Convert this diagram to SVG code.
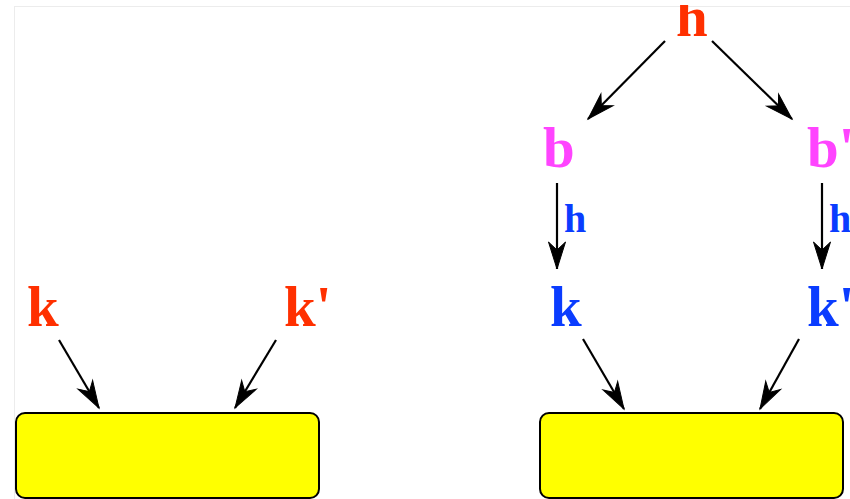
<svg xmlns="http://www.w3.org/2000/svg" width="850" height="499" viewBox="0 0 850 499">
<style>
.lbl{font-family:"Liberation Serif","Times New Roman",serif;font-weight:bold;font-size:57px}
.sm{font-size:40px}
.red{fill:#ff3000}
.mag{fill:#ff44ff}
.blue{fill:#0a3cff}
.box{fill:#ffff00;stroke:#000;stroke-width:2}
.edge{stroke:#000;stroke-width:2.2;fill:none;marker-end:url(#ah)}
</style>
<defs>
<marker id="ah" markerUnits="userSpaceOnUse" markerWidth="32" markerHeight="22" viewBox="-29 -11 32 22" refX="0" refY="0" orient="auto">
<path d="M0,0 L-27,-8.5 L-19,0 L-27,8.5 Z" fill="#000" stroke="#000" stroke-width="1" stroke-linejoin="miter"/>
</marker>
<clipPath id="topclip"><rect x="0" y="5" width="850" height="494"/></clipPath>
</defs>
<rect x="14.5" y="6.5" width="900" height="600" fill="none" stroke="#ececec" stroke-width="1"/>
<g id="edges">
<line class="edge" x1="665" y1="41" x2="588" y2="119"/>
<line class="edge" x1="712" y1="41" x2="792" y2="119"/>
<line class="edge" x1="557" y1="183" x2="557" y2="269"/>
<line class="edge" x1="822" y1="183" x2="822" y2="269"/>
<line class="edge" x1="59" y1="340" x2="99" y2="408"/>
<line class="edge" x1="276" y1="340" x2="235" y2="408"/>
<line class="edge" x1="583" y1="339" x2="624" y2="409"/>
<line class="edge" x1="799" y1="339" x2="760" y2="409"/>
</g>
<g id="box-left"><rect class="box" x="16" y="413" width="303" height="85" rx="9"/></g>
<g id="box-right"><rect class="box" x="540" y="413" width="303" height="85" rx="9"/></g>
<g id="node-h"><text class="lbl red" x="676" y="36" clip-path="url(#topclip)">h</text></g>
<g id="node-b"><text class="lbl mag" x="543" y="167">b</text></g>
<g id="node-bp"><text class="lbl mag" x="807" y="167">b'</text></g>
<g id="label-h1"><text class="lbl sm blue" x="564" y="232">h</text></g>
<g id="label-h2"><text class="lbl sm blue" x="829" y="232">h</text></g>
<g id="node-k-right"><text class="lbl blue" x="550" y="326">k</text></g>
<g id="node-kp-right"><text class="lbl blue" x="807" y="326">k'</text></g>
<g id="node-k-left"><text class="lbl red" x="27" y="326">k</text></g>
<g id="node-kp-left"><text class="lbl red" x="284" y="326">k'</text></g>
</svg>
